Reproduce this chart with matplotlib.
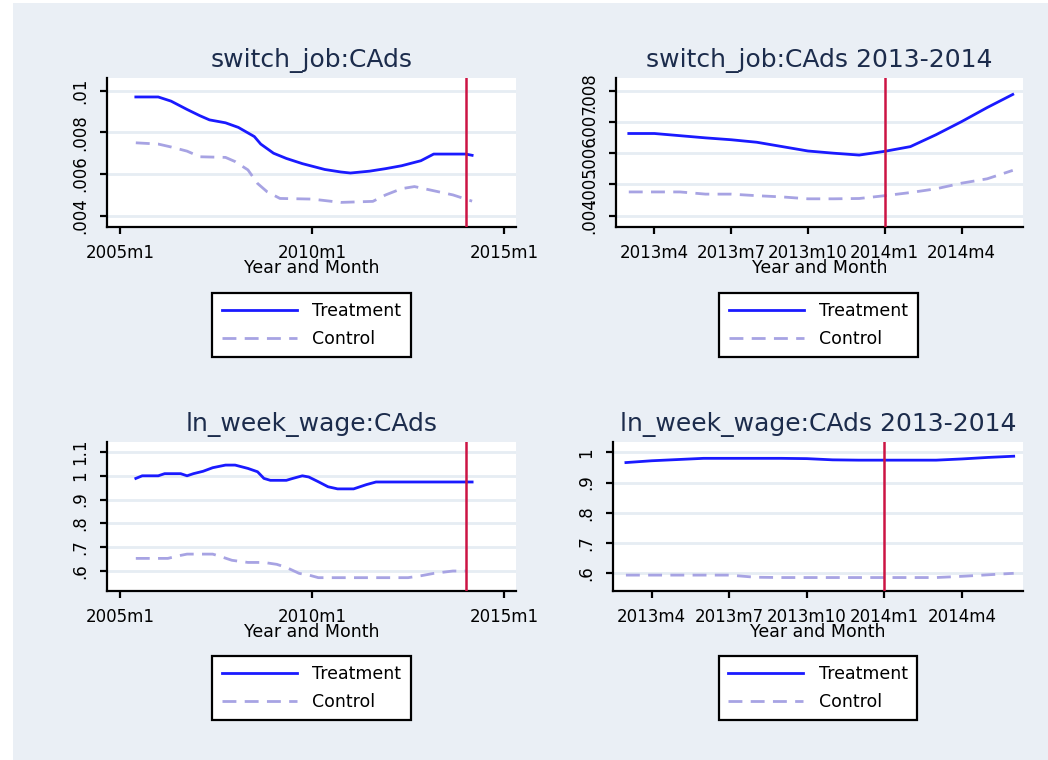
import numpy as np
import matplotlib
matplotlib.use("Agg")
import matplotlib.pyplot as plt
from matplotlib.lines import Line2D
from matplotlib.patches import Rectangle

# ---- data (Stata monthly dates) ----
sj_treat_dates = ["2005m6", "2006m1", "2006m5", "2006m10", "2007m2", "2007m5", "2007m10",
                  "2008m2", "2008m7", "2008m9", "2009m1", "2009m5", "2009m10", "2010m1",
                  "2010m5", "2010m10", "2011m1", "2011m3", "2011m7", "2011m12", "2012m5",
                  "2012m11", "2013m3", "2014m1", "2014m3"]
sj_treat = [.0097, .0097, .0095, .0091, .0088, .0086, .00846, .00824, .0078, .00744, .0070,
            .00675, .0065, .00638, .00622, .0061, .00605, .00608, .00614, .00626, .0064,
            .00664, .00696, .00696, .0069]

sj_ctrl_dates = ["2005m6", "2006m1", "2006m5", "2006m10", "2007m2", "2007m10", "2008m1",
                 "2008m5", "2008m8", "2008m11", "2009m3", "2010m1", "2010m10", "2011m8",
                 "2011m12", "2012m5", "2012m9", "2013m3", "2013m9", "2014m3"]
sj_ctrl = [.0075, .00744, .0073, .0071, .00683, .0068, .0066, .0062, .00555, .00515, .00483,
           .0048, .00464, .00469, .0050, .0053, .0054, .0052, .0050, .0047]

short_dates = ["2013m3", "2013m4", "2013m5", "2013m6", "2013m7", "2013m8", "2013m9", "2013m10",
               "2013m11", "2013m12", "2014m1", "2014m2", "2014m3", "2014m4", "2014m5", "2014m6"]
sj13_treat = [.00663, .00663, .00656, .00649, .00643, .00635, .00621, .00607, .0060, .00594,
              .00606, .00621, .00659, .00701, .00746, .00788]
sj13_ctrl = [.00476, .00476, .00476, .00469, .00469, .00464, .0046, .00454, .00454, .00455,
             .00464, .00474, .00486, .00504, .00518, .00545]

wg_treat_dates = ["2005m6", "2005m8", "2006m1", "2006m3", "2006m8", "2006m10", "2006m12",
                  "2007m3", "2007m6", "2007m10", "2008m1", "2008m5", "2008m8", "2008m10",
                  "2008m12", "2009m5", "2009m7", "2009m10", "2009m12", "2010m3", "2010m6",
                  "2010m9", "2011m2", "2011m4", "2011m6", "2011m9", "2014m3"]
wg_treat = [.989, 1.0, 1.0, 1.009, 1.009, 1.0, 1.009, 1.019, 1.034, 1.045, 1.045, 1.031, 1.017,
            .989, .981, .981, .989, 1.0, .995, .975, .954, .945, .945, .954, .963, .974, .974]

wg_ctrl_dates = ["2005m6", "2006m4", "2006m7", "2006m10", "2007m6", "2007m8", "2007m12",
                 "2008m5", "2008m10", "2009m2", "2009m5", "2009m9", "2009m12", "2010m3",
                 "2012m7", "2012m11", "2013m3", "2013m9", "2014m1"]
wg_ctrl = [.653, .653, .663, .671, .671, .663, .645, .636, .636, .628, .615, .59, .583, .572,
           .572, .58, .59, .60, .60]

wg13_treat = [.966, .972, .976, .98, .98, .98, .98, .979, .975, .974, .974, .974, .974, .978,
              .983, .987]
wg13_ctrl = [.594, .594, .594, .594, .594, .587, .586, .586, .586, .586, .586, .586, .586, .59,
             .595, .60]

long_ticks = ["2005m1", "2010m1", "2015m1"]
short_ticks = ["2013m4", "2013m7", "2013m10", "2014m1", "2014m4"]
event_date = "2014m1"


def tm(s):
    y, m = s.split("m")
    return (int(y) - 1960) * 12 + int(m) - 1


BG = "#eaeff5"
GRID = "#e6edf3"
BLUE = "#1a1aff"
LAV = "#a7a3e3"
RED = "#cc1444"
TITLE = "#1c2c4c"

plt.rcParams["font.family"] = "DejaVu Sans"
fig = plt.figure(figsize=(10.48, 7.6), dpi=100, facecolor="white")
fig.patches.append(Rectangle((13 / 1048, 0), 1, 1 - 3 / 760, transform=fig.transFigure,
                             facecolor=BG, edgecolor="none", zorder=-10))

W, H = 1048, 760


def panel(px, title, tx, ty, cx, cy, xt, xlim, yt, ylab, ylim, legpos):
    l, r, t, b = px
    ax = fig.add_axes([l / W, 1 - b / H, (r - l) / W, (b - t) / H])
    ax.set_facecolor("white")
    for yv in yt:
        ax.axhline(yv, color=GRID, lw=2, zorder=0)
    ax.plot([tm(d) for d in tx], ty, color=BLUE, lw=2, zorder=3)
    ax.plot([tm(d) for d in cx], cy, color=LAV, lw=2, ls=(0, (5, 3)), zorder=3)
    ax.axvline(tm(event_date), color=RED, lw=1.8, zorder=4)
    ax.set_xlim(*xlim)
    ax.set_ylim(*ylim)
    ax.set_xticks([tm(d) for d in xt])
    ax.set_xticklabels(xt, fontsize=12)
    ax.set_yticks(yt)
    ax.set_yticklabels(ylab, fontsize=12, rotation=90, va="center")
    for s in ["top", "right"]:
        ax.spines[s].set_visible(False)
    for s in ["left", "bottom"]:
        ax.spines[s].set_linewidth(1.6)
    ax.tick_params(axis="x", length=5, width=1.6, pad=7)
    ax.tick_params(axis="y", length=5, width=1.6, pad=8)
    ax.set_xlabel("Year and Month", fontsize=12.5, labelpad=-2)
    ax.set_title(title, fontsize=18, color=TITLE, pad=8)
    handles = [Line2D([], [], color=BLUE, lw=2),
               Line2D([], [], color=LAV, lw=2, ls=(0, (5, 3)))]
    leg = ax.legend(handles, ["Treatment", "Control"], loc="center",
                    bbox_to_anchor=(legpos[0] / W, 1 - legpos[1] / H),
                    bbox_transform=fig.transFigure, fontsize=12.5, frameon=True,
                    fancybox=False, framealpha=1, edgecolor="black", borderpad=0.55,
                    labelspacing=0.55, handlelength=4.3, handletextpad=0.9)
    leg.get_frame().set_linewidth(1.6)
    return ax


panel((107, 516, 78, 227), "switch_job:CAds", sj_treat_dates, sj_treat, sj_ctrl_dates, sj_ctrl,
      long_ticks, (536, 663.7), [.004, .006, .008, .01], [".004", ".006", ".008", ".01"],
      (0.00346, 0.01061), (311.5, 325))
panel((616, 1023, 78, 227), "switch_job:CAds 2013-2014", short_dates, sj13_treat,
      short_dates, sj13_ctrl, short_ticks, (637.5, 653.4), [.004, .005, .006, .007, .008],
      [".004", ".005", ".006", ".007", ".008"], (0.003638, 0.008406), (818.5, 325))
panel((107, 516, 442, 591), "ln_week_wage:CAds", wg_treat_dates, wg_treat, wg_ctrl_dates,
      wg_ctrl, long_ticks, (536, 663.7), [.6, .7, .8, .9, 1, 1.1],
      [".6", ".7", ".8", ".9", "1", "1.1"], (0.516, 1.142), (311.5, 688))
panel((613, 1023, 442, 591), "ln_week_wage:CAds 2013-2014", short_dates, wg13_treat,
      short_dates, wg13_ctrl, short_ticks, (637.5, 653.36), [.6, .7, .8, .9, 1],
      [".6", ".7", ".8", ".9", "1"], (0.5415, 1.034), (818, 688))

fig.savefig("out.png", dpi=100, facecolor=fig.get_facecolor())
